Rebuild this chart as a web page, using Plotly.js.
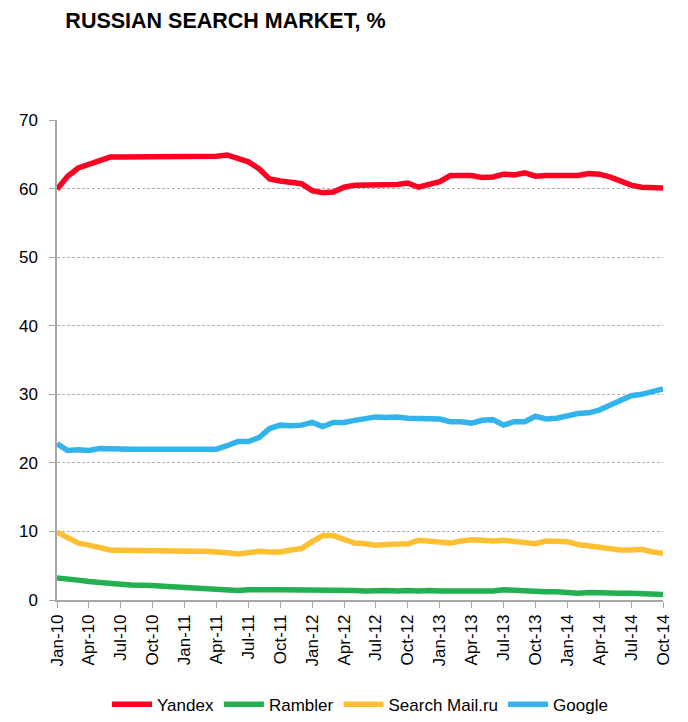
<!DOCTYPE html>
<html>
<head>
<meta charset="utf-8">
<script src="https://cdn.plot.ly/plotly-3.0.1.min.js"></script>
<style>
  body { margin: 0; background: #fff; }
  #chart { width: 688px; height: 722px; }
</style>
</head>
<body>
<div id="chart"></div>
<script>
// monthly labels Jan-10 .. Oct-14
const monthNames = ['Jan', 'Feb', 'Mar', 'Apr', 'May', 'Jun', 'Jul', 'Aug', 'Sep', 'Oct', 'Nov', 'Dec']
const years = ['10', '11', '12', '13', '14']
const months = []
for (const y of years) {
  for (const m of monthNames) {
    months.push(m + '-' + y)
  }
}
months.splice(58)

const tickLabels = months.filter((m, i) => i % 3 === 0)

const yandex = [
  59.9, 61.8, 63.0, 63.6, 64.1, 64.6, 64.6, 64.6, 64.6, 64.6,
  64.6, 64.6, 64.6, 64.7, 64.7, 64.7, 64.9, 64.4, 63.9, 62.9,
  61.4, 61.1, 60.9, 60.7, 59.7, 59.4, 59.5, 60.2, 60.5, 60.5,
  60.5, 60.6, 60.6, 60.8, 60.2, 60.6, 61.0, 61.9, 61.9, 61.9,
  61.6, 61.7, 62.1, 62.0, 62.3, 61.8, 61.9, 61.9, 61.8, 61.9,
  62.2, 62.1, 61.7, 61.0, 60.5, 60.2, 60.1, 60.1
]

const rambler = [
  3.2, 3.1, 2.9, 2.7, 2.5, 2.4, 2.3, 2.2, 2.2, 2.1,
  2.0, 1.9, 1.8, 1.7, 1.6, 1.5, 1.4, 1.4, 1.5, 1.6,
  1.5, 1.5, 1.5, 1.5, 1.4, 1.4, 1.4, 1.4, 1.4, 1.3,
  1.4, 1.4, 1.3, 1.4, 1.3, 1.4, 1.3, 1.3, 1.3, 1.3,
  1.3, 1.3, 1.5, 1.4, 1.3, 1.2, 1.2, 1.2, 1.1, 1.0,
  1.1, 1.0, 1.0, 1.0, 1.0, 0.9, 0.8, 0.8
]

const mailru = [
  9.9, 9.1, 8.3, 8.0, 7.6, 7.3, 7.25, 7.2, 7.2, 7.2,
  7.2, 7.15, 7.15, 7.1, 7.1, 7.05, 6.9, 6.7, 6.8, 7.1,
  7.0, 7.0, 7.3, 7.5, 8.5, 9.4, 9.4, 8.8, 8.3, 8.2,
  8.0, 8.1, 8.2, 8.2, 8.7, 8.6, 8.3, 8.3, 8.6, 8.8,
  8.7, 8.6, 8.7, 8.5, 8.3, 8.2, 8.6, 8.6, 8.5, 8.1,
  7.9, 7.6, 7.3, 7.3, 7.3, 7.4, 7.0, 6.8
]

const google = [
  22.8, 21.8, 21.9, 21.8, 22.1, 22.0, 22.0, 22.0, 22.0, 22.0,
  22.0, 22.0, 22.0, 22.0, 22.0, 22.0, 22.5, 23.1, 23.1, 23.7,
  25.0, 25.5, 25.4, 25.5, 25.9, 25.3, 25.9, 25.9, 26.2, 26.5,
  26.7, 26.6, 26.7, 26.5, 26.5, 26.4, 26.4, 26.0, 26.0, 25.8,
  26.2, 26.3, 25.5, 26.0, 26.0, 26.8, 26.4, 26.5, 26.9, 27.2,
  27.3, 27.7, 28.4, 29.2, 29.8, 30.0, 30.5, 30.8
]

const series = [
  { name: 'Yandex', y: yandex, color: '#ff0022' },
  { name: 'Rambler', y: rambler, color: '#22b050' },
  { name: 'Search Mail.ru', y: mailru, color: '#ffbf33' },
  { name: 'Google', y: google, color: '#33b3ec' }
]

const traces = series.map(s => ({
  x: months,
  y: s.y,
  name: s.name,
  type: 'scatter',
  mode: 'lines',
  line: { color: s.color, width: 5.5 }
}))

const font = 'Liberation Sans, Arial, sans-serif'

Plotly.newPlot('chart', traces, {
  width: 688,
  height: 722,
  paper_bgcolor: '#fff',
  plot_bgcolor: '#fff',
  margin: { l: 57, r: 25, t: 120, b: 122 },
  title: {
    text: '<b>RUSSIAN SEARCH MARKET, %</b>',
    font: { family: font, size: 21.5, color: '#000' },
    x: 0.095, xanchor: 'left',
    y: 0.971, yanchor: 'middle'
  },
  xaxis: {
    type: 'category',
    categoryorder: 'array',
    categoryarray: months,
    range: [0, months.length - 1],
    tickvals: tickLabels,
    ticktext: tickLabels,
    tickangle: -90,
    ticks: 'outside',
    ticklen: 6,
    tickcolor: '#a6a6a6',
    showline: true,
    linecolor: '#a6a6a6',
    linewidth: 1.5,
    showgrid: false,
    zeroline: false,
    automargin: false,
    tickfont: { family: font, size: 17, color: '#000' }
  },
  yaxis: {
    range: [0, 70],
    dtick: 10,
    ticks: 'outside',
    ticklen: 6,
    tickcolor: '#a6a6a6',
    showline: true,
    linecolor: '#a6a6a6',
    linewidth: 1.5,
    gridcolor: '#b0b0b0',
    griddash: '3px,2px',
    gridwidth: 1,
    zeroline: false,
    automargin: false,
    ticklabelstandoff: 8,
    tickfont: { family: font, size: 17, color: '#000' }
  },
  showlegend: true,
  legend: {
    orientation: 'h',
    x: 0.5, xanchor: 'center',
    yref: 'container',
    y: 0.049, yanchor: 'top',
    font: { family: font, size: 17, color: '#000' },
    itemwidth: 40,
    traceorder: 'normal'
  }
}, { displayModeBar: false })
</script>
</body>
</html>
